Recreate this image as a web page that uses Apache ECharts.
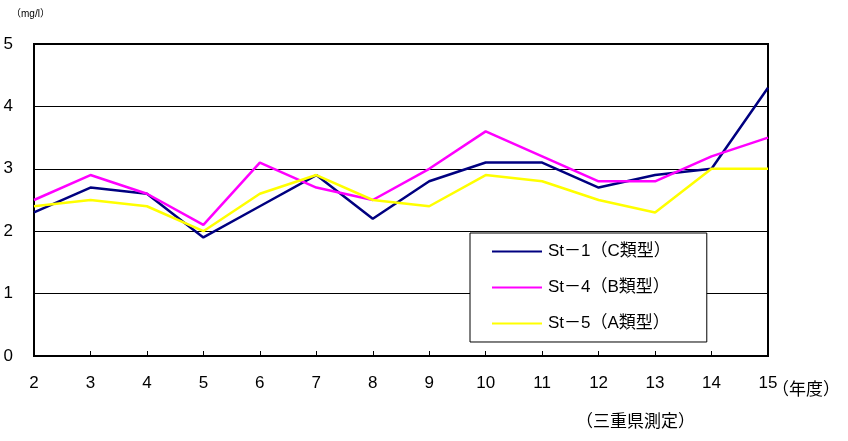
<!DOCTYPE html>
<html>
<head>
<meta charset="utf-8">
<script src="https://cdn.jsdelivr.net/npm/echarts@6/dist/echarts.min.js"></script>
<style>
  html, body { margin: 0; padding: 0; background: #fff; }
  #chart { width: 848px; height: 441px; }
</style>
</head>
<body>
<div id="chart"></div>
<script>
var years = ['2', '3', '4', '5', '6', '7', '8', '9', '10', '11', '12', '13', '14', '15'];
var st1 = [2.3, 2.7, 2.6, 1.9, 2.4, 2.9, 2.2, 2.8, 3.1, 3.1, 2.7, 2.9, 3.0, 4.3];
var st4 = [2.5, 2.9, 2.6, 2.1, 3.1, 2.7, 2.5, 3.0, 3.6, 3.2, 2.8, 2.8, 3.2, 3.5];
var st5 = [2.4, 2.5, 2.4, 2.0, 2.6, 2.9, 2.5, 2.4, 2.9, 2.8, 2.5, 2.3, 3.0, 3.0];
var names = ['St－1（C類型）', 'St－4（B類型）', 'St－5（A類型）'];

var font = '"Liberation Sans", Arial, "Noto Sans CJK JP", sans-serif';
var myChart = echarts.init(document.getElementById('chart'));

var option = {
    animation: false,
    textStyle: { fontFamily: font, color: '#000' },
    grid: {
        left: 34, right: 80, top: 44, bottom: 85,
        show: true, borderColor: '#000', borderWidth: 2, backgroundColor: 'transparent'
    },
    graphic: [
        { type: 'text', left: 11, top: 9, style: { text: '（mg/l）', font: '10px ' + font, fill: '#000' } },
        { type: 'text', left: 772, top: 382, style: { text: '（年度）', font: '17px ' + font, fill: '#000' } },
        { type: 'text', left: 576, top: 414, style: { text: '（三重県測定）', font: '17px ' + font, fill: '#000' } }
    ],
    legend: {
        orient: 'vertical',
        left: 470, top: 233,
        padding: [10, 36, 10, 22],
        backgroundColor: '#fff',
        borderColor: '#000',
        borderWidth: 1,
        borderRadius: 0,
        itemWidth: 50,
        itemHeight: 2,
        itemGap: 19,
        icon: 'rect',
        textStyle: { fontSize: 17, fontFamily: font, color: '#000', padding: [0, 0, 0, 1] },
        data: names
    },
    xAxis: {
        type: 'category',
        data: years,
        boundaryGap: false,
        axisLine: { lineStyle: { color: '#000', width: 2 } },
        axisTick: { inside: true, length: 5, lineStyle: { color: '#000' } },
        axisLabel: { fontSize: 17, color: '#000', margin: 19 }
    },
    yAxis: {
        type: 'value',
        min: 0, max: 5, interval: 1,
        axisLine: { show: true, lineStyle: { color: '#000', width: 2 } },
        axisTick: { show: false },
        axisLabel: { fontSize: 17, color: '#000', margin: 21 },
        splitLine: { lineStyle: { color: '#000', width: 1 } }
    },
    series: [
        { name: names[0], type: 'line', data: st1, symbol: 'none', color: '#000080', lineStyle: { width: 2.5 } },
        { name: names[1], type: 'line', data: st4, symbol: 'none', color: '#ff00ff', lineStyle: { width: 2.5 } },
        { name: names[2], type: 'line', data: st5, symbol: 'none', color: '#ffff00', lineStyle: { width: 2.5 } }
    ]
};

myChart.setOption(option);
</script>
</body>
</html>
